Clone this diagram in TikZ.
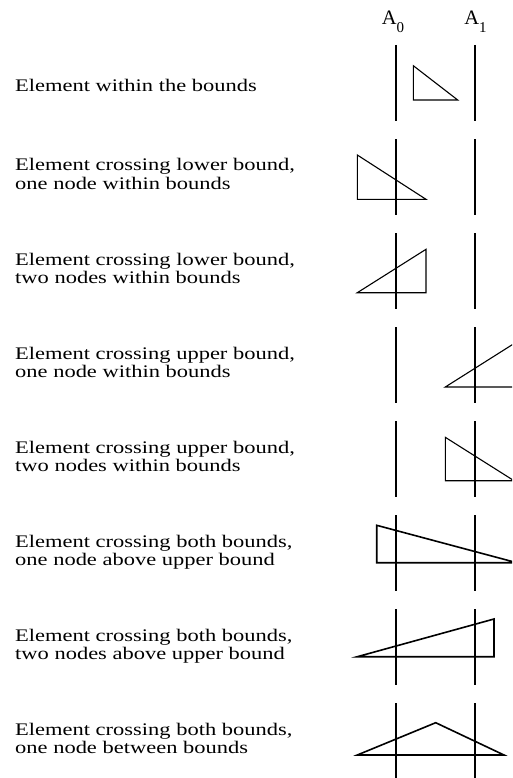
\documentclass[tikz,border=0pt]{standalone}
\usepackage{fontspec}
\setmainfont{Liberation Serif}
\usepackage{graphicx}
\newcommand\wlbl[1]{\scalebox{1.27}[1]{\begin{tabular}[t]{@{}l@{}}#1\end{tabular}}}
\begin{document}
\begin{tikzpicture}[x=1pt,y=-1pt,
  bound/.style={line width=1.8pt},
  elem/.style={line width=1.1pt},
  elemthick/.style={line width=1.6pt},
  lbl/.style={anchor=base west, inner sep=0pt, font=\fontsize{17.7}{18.5}\selectfont},
  alab/.style={anchor=base, inner sep=0pt, font=\fontsize{20.5}{22}\selectfont}]
\useasboundingbox (0,0) rectangle (512,778);
\clip (0,0) rectangle (512,778);
% column labels
\node[alab] (a0) at (393,24.3) {A\raisebox{-8pt}{\fontsize{15}{16}\selectfont 0}};
\node[alab] (a1) at (475.5,24.3) {A\raisebox{-8pt}{\fontsize{15}{16}\selectfont 1}};
% bounds
\foreach \i in {0,...,7}{
  \pgfmathsetmacro\rt{45+94.05*\i}
  \draw[bound] (396.3,\rt) -- ++(0,76);
  \draw[bound] (475,\rt) -- ++(0,76);
}
% row labels
\node[lbl] (l1) at (15,91.3) {\wlbl{Element within the bounds}};
\node[lbl] (l2) at (15,171) {\wlbl{Element crossing lower bound,\\one node within bounds}};
\node[lbl] (l3) at (15,265.05) {\wlbl{Element crossing lower bound,\\two nodes within bounds}};
\node[lbl] (l4) at (15,359.1) {\wlbl{Element crossing upper bound,\\one node within bounds}};
\node[lbl] (l5) at (15,453.15) {\wlbl{Element crossing upper bound,\\two nodes within bounds}};
\node[lbl] (l6) at (15,547.2) {\wlbl{Element crossing both bounds,\\one node above upper bound}};
\node[lbl] (l7) at (15,641.25) {\wlbl{Element crossing both bounds,\\two nodes above upper bound}};
\node[lbl] (l8) at (15,735.3) {\wlbl{Element crossing both bounds,\\one node between bounds}};
% elements
\draw[elem] (413.3,65.7) -- (413.3,100) -- (457.7,100) -- cycle;
\draw[elem] (357.3,155) -- (357.3,199.3) -- (426,199.3) -- cycle;
\draw[elem] (357.3,292.7) -- (426,292.7) -- (426,249.3) -- cycle;
\draw[elem] (445.3,387) -- (514,387) -- (514,343.6) -- cycle;
\draw[elem] (445.3,437.3) -- (445.3,480.7) -- (514,480.7) -- cycle;
\draw[elemthick] (376.7,525.3) -- (376.7,562.7) -- (516.7,562.7) -- cycle;
\draw[elemthick] (357.3,656.7) -- (494,656.7) -- (494,619) -- cycle;
\draw[elemthick] (357.3,755) -- (504,755) -- (435.7,722.7) -- cycle;
\end{tikzpicture}
\end{document}
